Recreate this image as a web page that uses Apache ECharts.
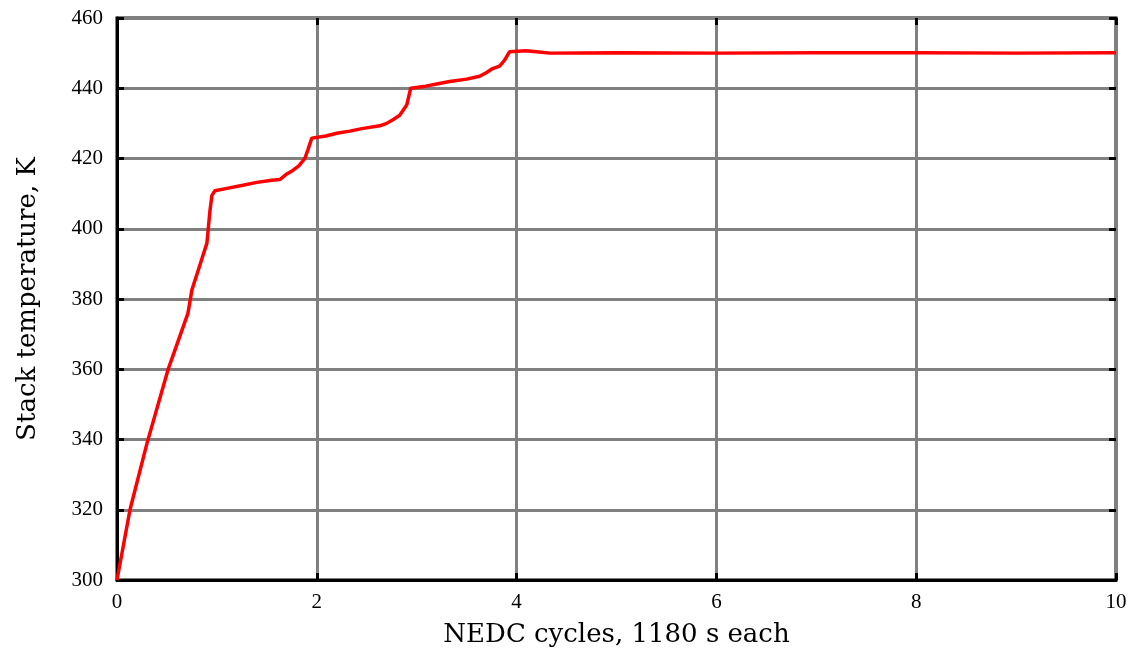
<!DOCTYPE html>
<html><head><meta charset="utf-8">
<script src="https://cdn.jsdelivr.net/npm/echarts@6/dist/echarts.min.js"></script>
<style>html,body{margin:0;padding:0;background:#fff}#c{width:1133px;height:654px}</style>
</head><body><div id="c"></div>
<script>
const cycles = [0,0.13,0.30,0.51,0.71,0.75,0.83,0.90,0.93,0.95,0.98,1.10,1.26,1.40,1.55,1.63,1.70,1.76,1.82,1.88,1.91,1.95,2.09,2.20,2.33,2.45,2.63,2.70,2.77,2.83,2.90,2.94,3.09,3.20,3.33,3.50,3.63,3.70,3.76,3.83,3.88,3.93,4.09,4.20,4.33,5,6,7,8,9,10];
const temps  = [300,320,338.9,359.8,375.9,382.6,389.7,395.9,405,409.5,410.8,411.5,412.4,413.2,413.8,414.0,415.6,416.6,417.9,420.0,422.4,425.8,426.4,427.2,427.8,428.5,429.3,430.0,431.2,432.3,435.2,440.0,440.6,441.2,441.9,442.6,443.4,444.5,445.6,446.3,448.0,450.4,450.7,450.4,450.0,450.1,450.0,450.1,450.1,450.0,450.1];
const xTicks = [0,2,4,6,8,10];
const yTicks = [300,320,340,360,380,400,420,440,460];

const titleFont = '"DejaVu Serif", "Liberation Serif", serif';
const tickFont = '"Liberation Serif", "DejaVu Serif", serif';
const chart = echarts.init(document.getElementById('c'));
const tickIn = {show:true,inside:true,length:7,lineStyle:{color:'#000',width:3}};
chart.setOption({
  animation:false,
  grid:{left:117,right:17,top:18,bottom:74,show:true,borderColor:'#000',borderWidth:3},
  xAxis:[{type:'value',min:xTicks[0],max:xTicks[xTicks.length-1],interval:2,
    name:'NEDC cycles, 1180 s each',nameLocation:'middle',nameGap:42,
    nameTextStyle:{fontFamily:titleFont,fontSize:26,color:'#000'},
    axisLabel:{fontFamily:tickFont,fontSize:21,color:'#000',margin:12},
    axisLine:{show:true,onZero:false,lineStyle:{color:'#000',width:3}},
    axisTick:tickIn,
    splitLine:{show:true,lineStyle:{color:'#808080',width:3}}},
    {type:'value',position:'top',min:0,max:10,interval:2,axisLabel:{show:false},
     axisLine:{show:false,onZero:false},axisTick:tickIn,splitLine:{show:false}}],
  yAxis:[{type:'value',position:'left',min:yTicks[0],max:yTicks[yTicks.length-1],interval:20,
    name:'Stack temperature, K',nameLocation:'middle',nameGap:76,
    nameTextStyle:{fontFamily:titleFont,fontSize:26,color:'#000'},
    axisLabel:{fontFamily:tickFont,fontSize:21,color:'#000',margin:14},
    axisLine:{show:true,onZero:false,lineStyle:{color:'#000',width:3}},
    axisTick:tickIn,
    splitLine:{show:true,lineStyle:{color:'#808080',width:3}}},
    {type:'value',position:'right',min:300,max:460,interval:20,axisLabel:{show:false},
     axisLine:{show:false,onZero:false},axisTick:tickIn,splitLine:{show:false}}],
  series:[{type:'line',data:cycles.map((x,i)=>[x,temps[i]]),showSymbol:false,
    lineStyle:{color:'#ff0000',width:3.5},z:5}]
});
</script></body></html>
